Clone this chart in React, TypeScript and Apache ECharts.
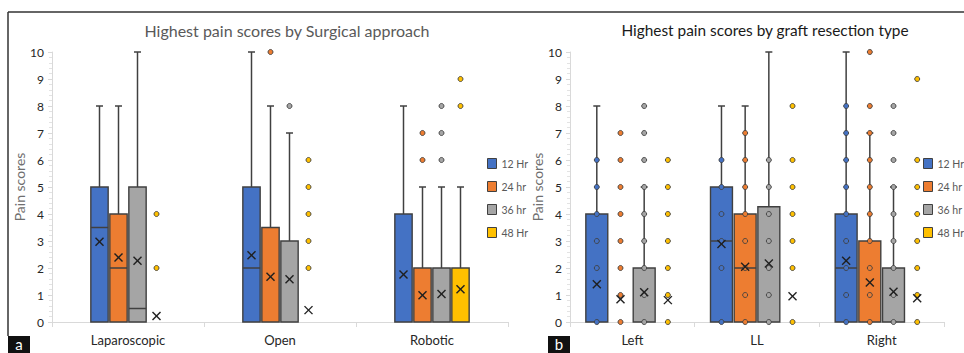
import React, { useEffect, useRef } from "react";
import * as echarts from "echarts";

// Series names and colours
const HOURS = ["12 Hr", "24 hr", "36 hr", "48 Hr"];
const COLORS = ["#4472C4", "#ED7D31", "#A5A5A5", "#FFC000"];

// Panel a: surgical approach
const approachCategories = ["Laparoscopic", "Open", "Robotic"];
// box stats per category: [min, q1, median, q3, max]; null = no box drawn
const approachBox12 = [[0, 0, 3.5, 5, 8], [0, 0, 2, 5, 10], [0, 0, 0, 4, 8]];
const approachBox24 = [[0, 0, 2, 4, 8], [0, 0, 0, 3.5, 8], [0, 0, 0, 2, 5]];
const approachBox36 = [[0, 0, 0.5, 5, 10], [0, 0, 0, 3, 7], [0, 0, 0, 2, 5]];
const approachBox48 = [null, null, [0, 0, 0, 2, 5]];
const approachPoints12: number[][] = [[], [], []];
const approachPoints24 = [[], [10], [6, 7]];
const approachPoints36 = [[], [8], [6, 7, 8]];
const approachPoints48 = [[2, 4], [2, 3, 4, 5, 6], [8, 9]];
const approachMean12 = [2.97, 2.47, 1.76];
const approachMean24 = [2.39, 1.68, 0.99];
const approachMean36 = [2.27, 1.58, 1.04];
const approachMean48 = [0.22, 0.44, 1.21];

// Panel b: graft resection type
const graftCategories = ["Left", "LL", "Right"];
const graftBox12 = [[0, 0, 0, 4, 8], [0, 0, 3, 5, 8], [0, 0, 2, 4, 10]];
const graftBox24 = [null, [0, 0, 2, 4, 8], [0, 0, 0, 3, 7]];
const graftBox36 = [[0, 0, 0, 2, 5], [0, 0, 0, 4.27, 10], [0, 0, 0, 2, 5]];
const graftBox48 = [null, null, null];
const graftPoints12 = [[0, 2, 3, 4, 5, 6], [0, 2, 3, 4, 5, 6], [0, 1, 2, 3, 4, 5, 6, 7, 8]];
const graftPoints24 = [[0, 1, 2, 3, 4, 5, 6, 7], [0, 1, 2, 3, 4, 5, 6, 7], [0, 1, 2, 3, 4, 5, 6, 7, 8, 10]];
const graftPoints36 = [[0, 1, 2, 3, 4, 5, 6, 7, 8], [0, 1, 2, 3, 4, 5, 6], [0, 1, 2, 3, 4, 5, 6, 7, 8]];
const graftPoints48 = [[0, 1, 2, 3, 4, 5, 6], [0, 2, 3, 4, 5, 6, 8], [0, 1, 2, 3, 4, 5, 6, 9]];
const graftMean12 = [1.4, 2.89, 2.27];
const graftMean24 = [0.84, 2.05, 1.46];
const graftMean36 = [1.1, 2.17, 1.12];
const graftMean48 = [0.81, 0.95, 0.88];

const Y_TICKS = [0, 10, 1]; // min, max, interval

const STROKE = "#404040";
const FONT = "Lato, 'Open Sans', sans-serif";

type Box = number[] | null;

function panelSeries(
  axisIndex: number,
  boxes: Box[][],
  points: number[][][],
  means: number[][],
  spacing: number,
  boxWidth: number
) {
  const list: any[] = [];
  HOURS.forEach((name, h) => {
    const color = COLORS[h];
    const centerX = (api: any) => {
      const band = api.size([1, 0])[0];
      return api.coord([api.value(0), 0])[0] + (h - 1.5) * spacing * band;
    };
    // boxes and whiskers
    list.push({
      type: "custom",
      name,
      xAxisIndex: axisIndex,
      yAxisIndex: axisIndex,
      z: 2,
      itemStyle: { color },
      encode: { x: 0, y: [1, 2, 3, 4, 5] },
      data: boxes[h]
        .map((b, i) => (b ? [i, ...b] : null))
        .filter((d) => d !== null),
      renderItem: (params: any, api: any) => {
        const band = api.size([1, 0])[0];
        const cx = centerX(api);
        const half = (boxWidth * band) / 2;
        const y = (v: number) => api.coord([api.value(0), v])[1];
        const yMin = y(api.value(1));
        const yQ1 = y(api.value(2));
        const med = api.value(3);
        const yMed = y(med);
        const yQ3 = y(api.value(4));
        const yMax = y(api.value(5));
        const line = (x1: number, y1: number, x2: number, y2: number) => ({
          type: "line",
          shape: { x1, y1, x2, y2 },
          style: { stroke: STROKE, lineWidth: 1.5 },
        });
        const children: any[] = [];
        if (yMax < yQ3) {
          children.push(line(cx, yQ3, cx, yMax));
          children.push(line(cx - 3.5, yMax, cx + 3.5, yMax));
        }
        if (yMin > yQ1) {
          children.push(line(cx, yQ1, cx, yMin));
          children.push(line(cx - 3.5, yMin, cx + 3.5, yMin));
        }
        children.push({
          type: "rect",
          shape: { x: cx - half, y: yQ3, width: half * 2, height: yQ1 - yQ3 },
          style: { fill: color, stroke: STROKE, lineWidth: 1.4 },
        });
        if (med > api.value(2) && med < api.value(4)) {
          children.push(line(cx - half, yMed, cx + half, yMed));
        }
        return { type: "group", children };
      },
    });
    // individual points
    const pts: number[][] = [];
    points[h].forEach((vals, i) => vals.forEach((v) => pts.push([i, v])));
    list.push({
      type: "custom",
      name,
      xAxisIndex: axisIndex,
      yAxisIndex: axisIndex,
      z: 3,
      itemStyle: { color },
      encode: { x: 0, y: 1 },
      data: pts,
      renderItem: (params: any, api: any) => {
        const cx = centerX(api);
        const cy = api.coord([api.value(0), api.value(1)])[1];
        return {
          type: "circle",
          shape: { cx, cy, r: 2.5 },
          style: { fill: color, stroke: STROKE, lineWidth: 0.9 },
        };
      },
    });
    // mean markers
    list.push({
      type: "custom",
      name,
      xAxisIndex: axisIndex,
      yAxisIndex: axisIndex,
      z: 4,
      itemStyle: { color },
      encode: { x: 0, y: 1 },
      data: means[h].map((m, i) => [i, m]),
      renderItem: (params: any, api: any) => {
        const cx = centerX(api);
        const cy = api.coord([api.value(0), api.value(1)])[1];
        const s = 4;
        const st = { stroke: "#1f1f1f", lineWidth: 1.4 };
        return {
          type: "group",
          children: [
            { type: "line", shape: { x1: cx - s, y1: cy - s, x2: cx + s, y2: cy + s }, style: st },
            { type: "line", shape: { x1: cx - s, y1: cy + s, x2: cx + s, y2: cy - s }, style: st },
          ],
        };
      },
    });
  });
  return list;
}

function xAxis(gridIndex: number, data: string[]) {
  return {
    type: "category",
    gridIndex,
    data,
    axisLine: { lineStyle: { color: "#d9d9d9", width: 1 } },
    axisTick: { show: true, length: 5, interval: 0, lineStyle: { color: "#d9d9d9" } },
    axisLabel: { color: "#262626", fontSize: 13, margin: 11, fontFamily: FONT },
    splitLine: { show: false },
  };
}

function yAxis(gridIndex: number, nameGap: number) {
  return {
    type: "value",
    gridIndex,
    min: Y_TICKS[0],
    max: Y_TICKS[1],
    interval: Y_TICKS[2],
    name: "Pain scores",
    nameLocation: "middle",
    nameGap,
    nameTextStyle: { color: "#6f6f6f", fontSize: 14, fontFamily: FONT },
    axisLine: { show: true, lineStyle: { color: "#d9d9d9", width: 1 } },
    axisTick: { show: true, length: 4, lineStyle: { color: "#d9d9d9" } },
    minorTick: { show: true, splitNumber: 5, length: 3, lineStyle: { color: "#e3e3e3" } },
    axisLabel: { color: "#262626", fontSize: 12, margin: 8, fontFamily: FONT },
    splitLine: { show: false },
  };
}

function legend(left: number) {
  return {
    data: HOURS,
    orient: "vertical",
    left,
    top: 158,
    padding: 0,
    icon: "rect",
    itemWidth: 9,
    itemHeight: 10,
    itemGap: 12,
    itemStyle: { borderColor: STROKE, borderWidth: 1 },
    textStyle: { color: "#595959", fontSize: 10.5, fontFamily: FONT },
    selectedMode: false,
  };
}

export default function App() {
  const ref = useRef<HTMLDivElement>(null);

  useEffect(() => {
    if (!ref.current) return;
    const chart = echarts.init(ref.current, undefined, { renderer: "svg" });
    chart.setOption({
      animation: false,
      backgroundColor: "#ffffff",
      textStyle: { fontFamily: FONT },
      grid: [
        { left: 52, right: 456, top: 52, bottom: 31 },
        { left: 570, right: 20, top: 52, bottom: 31 },
      ],
      xAxis: [xAxis(0, approachCategories), xAxis(1, graftCategories)],
      yAxis: [yAxis(0, 23), yAxis(1, 21)],
      legend: [legend(487), legend(923)],
      series: [
        ...panelSeries(
          0,
          [approachBox12, approachBox24, approachBox36, approachBox48],
          [approachPoints12, approachPoints24, approachPoints36, approachPoints48],
          [approachMean12, approachMean24, approachMean36, approachMean48],
          0.125,
          0.114
        ),
        ...panelSeries(
          1,
          [graftBox12, graftBox24, graftBox36, graftBox48],
          [graftPoints12, graftPoints24, graftPoints36, graftPoints48],
          [graftMean12, graftMean24, graftMean36, graftMean48],
          0.19,
          0.176
        ),
      ],
      graphic: [
        { type: "line", shape: { x1: 8, y1: 12, x2: 964, y2: 12 }, style: { stroke: "#333", lineWidth: 1.5 } },
        { type: "line", shape: { x1: 8, y1: 12, x2: 8, y2: 336 }, style: { stroke: "#333", lineWidth: 1.5 } },
        {
          type: "text",
          x: 287,
          y: 30,
          style: {
            text: "Highest pain scores by Surgical approach",
            fill: "#595959",
            fontSize: 16,
            fontFamily: FONT,
            textAlign: "center",
            textVerticalAlign: "middle",
          },
        },
        {
          type: "text",
          x: 765,
          y: 30,
          style: {
            text: "Highest pain scores by graft resection type",
            fill: "#1a1a1a",
            fontSize: 15.4,
            fontFamily: FONT,
            textAlign: "center",
            textVerticalAlign: "middle",
          },
        },
        { type: "rect", shape: { x: 8, y: 336, width: 22, height: 17 }, style: { fill: "#111" } },
        {
          type: "text",
          x: 19,
          y: 344,
          style: { text: "a", fill: "#fff", fontSize: 15, fontFamily: FONT, textAlign: "center", textVerticalAlign: "middle" },
        },
        { type: "rect", shape: { x: 548, y: 336, width: 22, height: 17 }, style: { fill: "#111" } },
        {
          type: "text",
          x: 559,
          y: 344,
          style: { text: "b", fill: "#fff", fontSize: 15, fontFamily: FONT, textAlign: "center", textVerticalAlign: "middle" },
        },
      ],
    });
    return () => chart.dispose();
  }, []);

  return (
    <div
      ref={ref}
      style={{ position: "fixed", left: 0, top: 0, width: 964, height: 353, background: "#fff" }}
    />
  );
}
